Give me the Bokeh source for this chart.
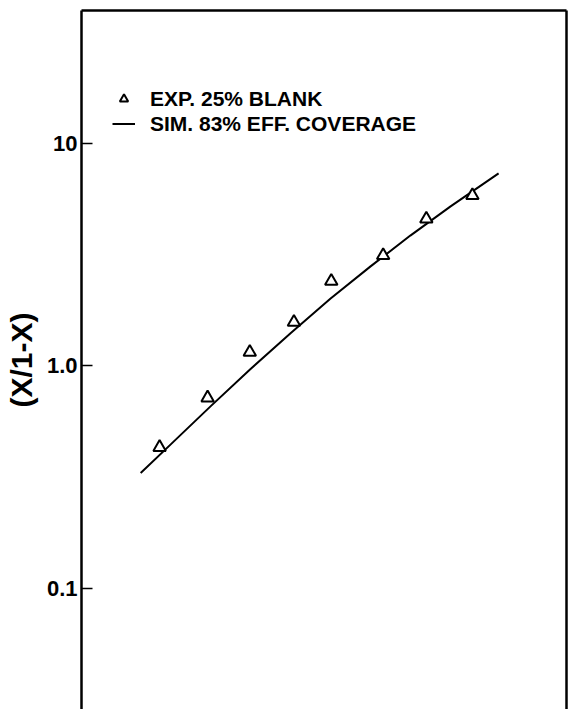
from bokeh.plotting import figure
from bokeh.models import (FixedTicker, LinearAxis, LogAxis, Legend, LegendItem,
                          Range1d, ColumnDataSource)
from bokeh.embed import file_html
from bokeh.resources import INLINE

# Experimental points (25% blank) and simulated curve (83% effective coverage)
x_exp = [16.1, 26.0, 34.7, 43.8, 51.5, 62.2, 71.1, 80.6]
ratio_exp = [0.432, 0.72, 1.153, 1.572, 2.40, 3.13, 4.57, 5.82]

x_sim = [12.2, 18.4, 26.6, 34.8, 43.1, 51.3, 59.6, 67.8, 76.1, 86.0]
ratio_sim = [0.331, 0.445, 0.659, 0.968, 1.403, 2.001, 2.797, 3.845, 5.196, 7.31]

tick_values = [0.1, 1, 10]
tick_labels = ["0.1", "1.0", "10"]

legend_labels = ["EXP. 25% BLANK", "SIM. 83% EFF. COVERAGE"]
y_title = "(X/1-X)"

FONT = "Liberation Sans"

p = figure(width=569, height=709, y_axis_type="log",
           x_range=Range1d(0, 100), y_range=Range1d(0.0288, 39.3),
           x_axis_location=None, output_backend="svg", toolbar_location=None,
           min_border_left=81, min_border_right=3, min_border_top=10,
           min_border_bottom=0)
p.outline_line_color = None
p.xgrid.visible = False
p.ygrid.visible = False
p.background_fill_color = "white"
p.border_fill_color = "white"

# left axis: inward ticks, bold labels
ya = p.yaxis[0]
ya.ticker = FixedTicker(ticks=tick_values, minor_ticks=[])
ya.major_label_overrides = dict(zip(tick_values, tick_labels))
ya.axis_line_width = 2.5
ya.axis_line_color = "black"
ya.major_tick_in = 11
ya.major_tick_out = 0
ya.major_tick_line_width = 1.5
ya.minor_tick_line_color = None
ya.major_label_text_font = FONT
ya.major_label_text_font_style = "bold"
ya.major_label_text_font_size = "22px"
ya.major_label_text_color = "black"
ya.major_label_standoff = 4
ya.axis_label = y_title
ya.axis_label_text_font = FONT
ya.axis_label_text_font_style = "bold"
ya.axis_label_text_font_size = "30px"
ya.axis_label_text_color = "black"
ya.axis_label_standoff = 6

# plain frame lines on top and right
def frame_line(axis):
    axis.ticker = FixedTicker(ticks=[])
    axis.major_label_text_font_size = "0px"
    axis.major_tick_line_color = None
    axis.minor_tick_line_color = None
    axis.axis_line_width = 2.5
    axis.axis_line_color = "black"
    return axis

p.add_layout(frame_line(LinearAxis()), "above")
p.add_layout(frame_line(LogAxis()), "right")

sim_src = ColumnDataSource(dict(x=x_sim, y=ratio_sim))
exp_src = ColumnDataSource(dict(x=x_exp, y=ratio_exp))

sim = p.line("x", "y", source=sim_src, line_color="black", line_width=2)
exp = p.scatter("x", "y", source=exp_src, marker="triangle", size=12.5,
                fill_color="white", line_color="black", line_width=2)

legend = Legend(items=[LegendItem(label=legend_labels[0], renderers=[exp]),
                       LegendItem(label=legend_labels[1], renderers=[sim])],
                location=(31, 573), orientation="vertical",
                padding=0, margin=0, spacing=0,
                glyph_width=23, glyph_height=21, label_height=25,
                label_standoff=15,
                label_text_font=FONT, label_text_font_style="bold",
                label_text_font_size="21px", label_text_color="black",
                border_line_color=None, background_fill_alpha=0)
p.add_layout(legend)

open("out.html", "w").write(file_html(p, INLINE))
